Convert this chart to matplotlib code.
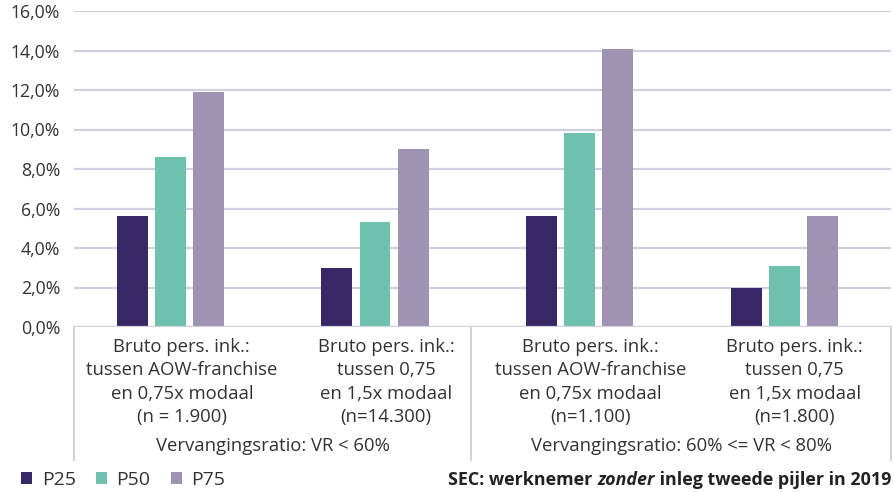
import numpy as np
import matplotlib
matplotlib.use("Agg")
import matplotlib.pyplot as plt
from matplotlib.ticker import FuncFormatter

plt.rcParams['font.family'] = ['Open Sans', 'DejaVu Sans']

groepen = ["Bruto pers. ink.:\ntussen AOW-franchise\nen 0,75x modaal\n(n = 1.900)",
           "Bruto pers. ink.:\ntussen 0,75\nen 1,5x modaal\n(n=14.300)",
           "Bruto pers. ink.:\ntussen AOW-franchise\nen 0,75x modaal\n(n=1.100)",
           "Bruto pers. ink.:\ntussen 0,75\nen 1,5x modaal\n(n=1.800)"]
ratio_labels = ["Vervangingsratio: VR < 60%", "Vervangingsratio: 60% <= VR < 80%"]
series = ["P25", "P50", "P75"]
p25 = [0.056, 0.030, 0.056, 0.020]
p50 = [0.086, 0.053, 0.098, 0.031]
p75 = [0.119, 0.090, 0.141, 0.056]
kleuren = ["#372865", "#6dc1ad", "#9f93b3"]
tekst = "#333333"
lijn = "#d3cfe0"
fs = 13.3

fig = plt.figure(figsize=(8.93, 4.92), dpi=100)
ax = fig.add_axes([74/893, 1-327/492, (891-74)/893, 316/492])

x = np.arange(len(groepen))
breedte = 0.151
stap = 0.186
for i, (naam, waarden) in enumerate(zip(series, [p25, p50, p75])):
    ax.bar(x + (i-1)*stap, waarden, breedte, color=kleuren[i], label=naam, zorder=3)

ax.set_xlim(-0.47, 3.52)
ax.set_ylim(0, 0.16)
ax.set_yticks(np.arange(0, 0.161, 0.02))
ax.yaxis.set_major_formatter(FuncFormatter(lambda v, p: f"{v*100:.1f}%".replace(".", ",")))
ax.tick_params(axis='y', length=0, pad=10, labelsize=12.7, labelcolor=tekst)
ax.set_xticks([])
ax.grid(axis='y', color=lijn, linewidth=1.6, zorder=0)
for s in ax.spines.values():
    s.set_visible(False)
ax.axhline(0, color=lijn, linewidth=1.6, zorder=4)

# tabel onder de as
yb = (327-460)/316
for xf in [0, (471-74)/817, 1]:
    ax.plot([xf, xf], [0, yb], transform=ax.transAxes, color=lijn, linewidth=1.4, clip_on=False)
for i, g in enumerate(groepen):
    ax.text((i+0.5)/4+0.007, -0.035, g, transform=ax.transAxes, ha='center', va='top',
            fontsize=fs, color=tekst, linespacing=1.38)
ax.text(0.243, -0.376, ratio_labels[0], transform=ax.transAxes, ha='center', va='center',
        fontsize=fs, color=tekst)
ax.text(0.743, -0.376, ratio_labels[1], transform=ax.transAxes, ha='center', va='center',
        fontsize=fs, color=tekst)

# legenda
leg = fig.legend(loc='center left', bbox_to_anchor=(0.013, 1-480/492), ncol=3, frameon=False,
                 fontsize=14, handlelength=0.55, handleheight=0.55, handletextpad=0.5,
                 columnspacing=1.05, labelcolor=tekst, borderpad=0)

# bron-tekst met cursief woord
fig.canvas.draw()
r = fig.canvas.get_renderer()
yt = 1-480/492
fb = 12.9
t3 = fig.text(891/893, yt, " inleg tweede pijler in 2019", ha='right', va='center',
              fontsize=fb, fontweight='bold', color='#222222')
x3 = t3.get_window_extent(r).x0 / fig.bbox.width
t2 = fig.text(x3, yt, "zonder", ha='right', va='center', fontsize=fb,
              fontweight='bold', fontstyle='italic', color='#222222')
x2 = t2.get_window_extent(r).x0 / fig.bbox.width
fig.text(x2, yt, "SEC: werknemer ", ha='right', va='center', fontsize=fb,
         fontweight='bold', color='#222222')

fig.savefig("out.png", dpi=100)
